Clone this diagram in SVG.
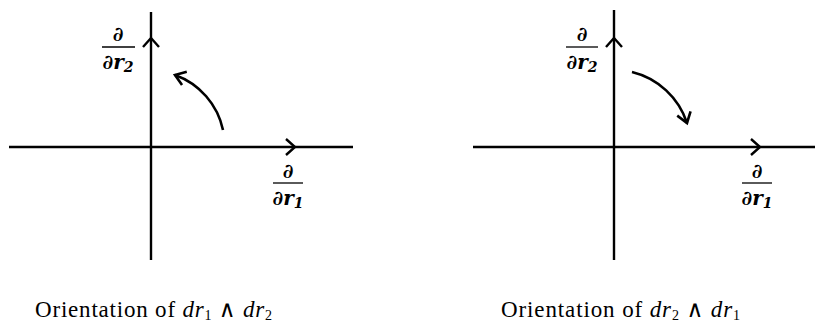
<svg xmlns="http://www.w3.org/2000/svg" width="815" height="327" viewBox="0 0 815 327">
<defs>
<style>
.axis{fill:none;stroke:#000;stroke-width:2.4}
.rot{fill:none;stroke:#000;stroke-width:2.6}
.lbl{font-family:"DejaVu Serif","Liberation Serif",serif;font-size:20px;font-weight:bold;font-style:italic;text-anchor:middle}
.bar{stroke:#000;stroke-width:1.3}
.cap{font-family:"Liberation Serif","DejaVu Serif",serif;font-size:23px}
.it{font-style:italic}
.sub{font-size:14px}
</style>
<marker id="chev" markerUnits="userSpaceOnUse" markerWidth="24" markerHeight="24" viewBox="-12 -12 24 24" refX="0" refY="0" orient="auto">
<path d="M-9,-8 L0,0 L-9,8" fill="none" stroke="#000" stroke-width="2.4"/>
</marker>
<marker id="chev2" markerUnits="userSpaceOnUse" markerWidth="24" markerHeight="24" viewBox="-12 -12 24 24" refX="0" refY="0" orient="auto">
<path d="M-10,-7 L0,0 L-10,7" fill="none" stroke="#000" stroke-width="2.6"/>
</marker>
</defs>
<g id="connectors">
<path class="axis" d="M9,147 L295,147 L353,147" marker-mid="url(#chev)"/>
<path class="axis" d="M151,260 L151,38 L151,12" marker-mid="url(#chev)"/>
<path class="rot" d="M223,130 A75,75 0 0 0 175,75" marker-end="url(#chev2)"/>
<path class="axis" d="M473,147 L760,147 L815,147" marker-mid="url(#chev)"/>
<path class="axis" d="M614,260 L614,38 L614,10" marker-mid="url(#chev)"/>
<path class="rot" d="M632,72 A77,77 0 0 1 687,123" marker-end="url(#chev2)"/>
</g>
<g id="left-r2-label">
<text class="lbl" x="118" y="41">∂</text>
<line class="bar" x1="102" y1="47" x2="135" y2="47"/>
<text class="lbl" x="118" y="69">∂r<tspan class="sub" dy="3">2</tspan></text>
</g>
<g id="left-r1-label">
<text class="lbl" x="288" y="178">∂</text>
<line class="bar" x1="273" y1="183" x2="303" y2="183"/>
<text class="lbl" x="288" y="205">∂r<tspan class="sub" dy="3">1</tspan></text>
</g>
<g id="right-r2-label">
<text class="lbl" x="582" y="41">∂</text>
<line class="bar" x1="566" y1="47" x2="598" y2="47"/>
<text class="lbl" x="582" y="69">∂r<tspan class="sub" dy="3">2</tspan></text>
</g>
<g id="right-r1-label">
<text class="lbl" x="757" y="178">∂</text>
<line class="bar" x1="742" y1="183" x2="772" y2="183"/>
<text class="lbl" x="757" y="205">∂r<tspan class="sub" dy="3">1</tspan></text>
</g>
<g id="left-caption">
<text class="cap" x="35" y="317" textLength="237" lengthAdjust="spacing">Orientation of <tspan class="it">dr</tspan><tspan class="sub" dy="3">1</tspan><tspan dy="-3"> ∧ </tspan><tspan class="it">dr</tspan><tspan class="sub" dy="3">2</tspan></text>
</g>
<g id="right-caption">
<text class="cap" x="501" y="317" textLength="239" lengthAdjust="spacing">Orientation of <tspan class="it">dr</tspan><tspan class="sub" dy="3">2</tspan><tspan dy="-3"> ∧ </tspan><tspan class="it">dr</tspan><tspan class="sub" dy="3">1</tspan></text>
</g>
</svg>
